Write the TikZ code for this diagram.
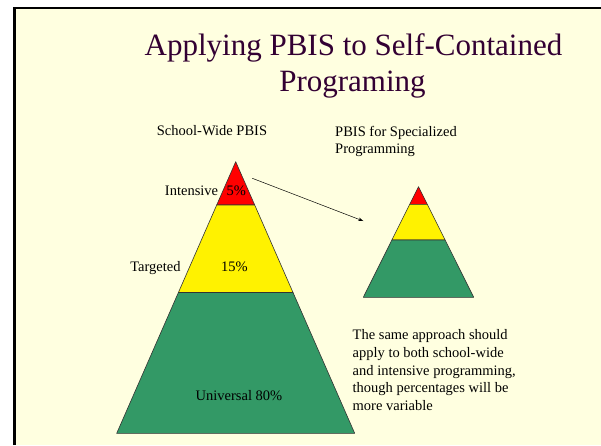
\documentclass[tikz,border=0pt]{standalone}
\usepackage{fontspec}
\setmainfont{Liberation Serif}
\usetikzlibrary{arrows.meta}

\definecolor{slidebg}{RGB}{255,255,224}
\definecolor{titlepurple}{RGB}{51,0,51}
\definecolor{tiergreen}{RGB}{51,153,102}

\tikzset{
    tier/.style={draw=black!80, line width=0.6pt, line join=round},
    tiertext/.style={inner sep=0pt, font=\rmfamily\fontsize{14.5}{17.7}\selectfont},
    slidetitle/.style={inner sep=0pt, text=titlepurple, font=\rmfamily\fontsize{31}{36}\selectfont}
}

\begin{document}
\begin{tikzpicture}[x=1pt, y=-1pt]
            \useasboundingbox (0,0) rectangle (601,445);

            % Draw the slide
            \fill[white] (0,0) rectangle (601,445);
            \fill[slidebg] (14.5,8) rectangle (601,445);
            \draw[line width=3pt] (14.5,445) -- (14.5,8);
            \draw[line width=2pt] (13,8) -- (601,8);

            % Draw the title
            \node[slidetitle, anchor=base] (title1) at (353.5,55.7) {Applying PBIS to Self-Contained};
            \node[slidetitle, anchor=base] (title2) at (352.5,91.7) {Programing};

            \node[tiertext, anchor=base west] (schoolwide) at (156.7,135.7) {School-Wide PBIS};
            \node[tiertext, anchor=north west, align=left] (specialized) at (335,125.8) {PBIS for Specialized\\Programming};

            % Draw the big pyramid
            \draw[tier, fill=red] (235.7,161.7) -- (254.7,205) -- (216.7,205) -- cycle;
            \draw[tier, fill=yellow] (216.7,205) -- (254.7,205) -- (293,292.5) -- (178.4,292.5) -- cycle;
            \draw[tier, fill=tiergreen] (178.4,292.5) -- (293,292.5) -- (354.7,433.3) -- (116.7,433.3) -- cycle;

            \node[tiertext, anchor=base east] (intensive) at (218.3,195.7) {Intensive};
            \node[tiertext, anchor=base] (five) at (236.3,195.7) {5\%};
            \node[tiertext, anchor=base east] (targeted) at (180.7,271.7) {Targeted};
            \node[tiertext, anchor=base] (fifteen) at (234.3,271.7) {15\%};
            \node[tiertext, anchor=base] (universal) at (239,400) {Universal 80\%};

            % Draw the small pyramid
            \draw[tier, fill=red] (418.5,186.7) -- (427.3,204.3) -- (409.7,204.3) -- cycle;
            \draw[tier, fill=yellow] (409.7,204.3) -- (427.3,204.3) -- (445.1,240) -- (391.9,240) -- cycle;
            \draw[tier, fill=tiergreen] (391.9,240) -- (445.1,240) -- (473.7,297.3) -- (363.3,297.3) -- cycle;

            % Draw the arrow between the pyramids
            \coordinate (from) at (252.3,178.3);
            \coordinate (to) at (363.3,221);
            \draw[line width=0.5pt, -{Stealth[length=5pt, width=3.5pt]}] (from) -- (to);

            \node[tiertext, anchor=north west, align=left] (note) at (352.5,329.4)
                {The same approach should\\apply to both school-wide\\and intensive programming,\\though percentages will be\\more variable};
\end{tikzpicture}
\end{document}
